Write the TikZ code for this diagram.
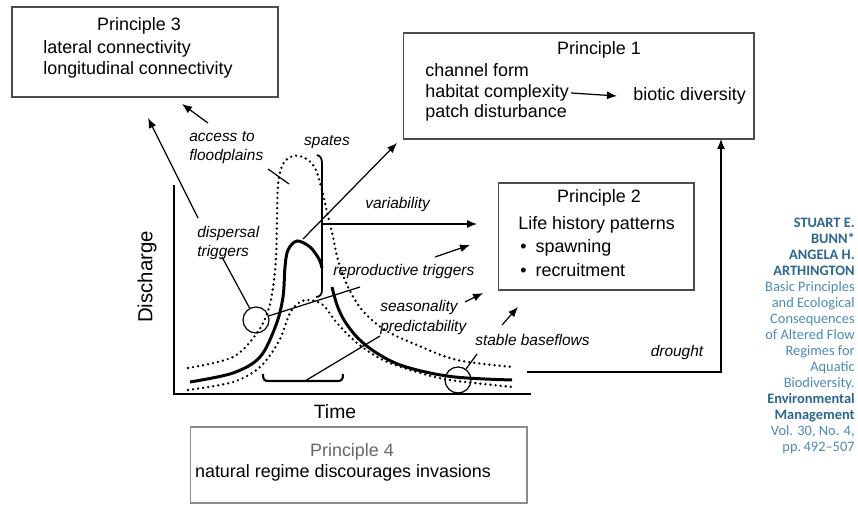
\documentclass[tikz,border=0pt]{standalone}
\usepackage{fontspec}
\setmainfont{Liberation Sans}
\newfontfamily\citefont{Carlito}
\usetikzlibrary{arrows.meta}
\definecolor{citebold}{HTML}{2A668E}
\definecolor{citereg}{HTML}{4B8AB6}
\tikzset{
	pbox/.style={draw=black!70, line width=0.6pt, inner sep=0pt},
	ptxt/.style={inner sep=0pt, font=\fontsize{10.2}{12}\selectfont},
	itl/.style={inner sep=0pt, align=left, font=\fontsize{8.8}{11}\selectfont\itshape},
	hydro/.style={line width=1.7pt},
	dots/.style={line width=1.5pt, dash pattern=on 0pt off 2.9pt, line cap=round},
	lnk/.style={line width=0.7pt},
	arr/.style={lnk, -{Latex[length=2mm,width=1.6mm]}},
	ring/.style={draw, lnk, circle, minimum size=0.52cm, inner sep=0pt},
}

\begin{document}
\begin{tikzpicture}[x=0.02cm, y=-0.02cm]
		%%%%% START %%%%%
		\useasboundingbox (0,0) rectangle (858,519);
		
		% principle boxes
		\node[pbox, minimum width=5.32cm, minimum height=1.8cm] (p3) at (145,52) {};
		\node[ptxt] (p3t) at (139,26) {Principle 3};
		\node[ptxt, anchor=west] (lat) at (43,49) {lateral connectivity};
		\node[ptxt, anchor=west] (lon) at (43,70) {longitudinal connectivity};
		
		\node[pbox, minimum width=7.02cm, minimum height=2.12cm] (p1) at (578.5,86) {};
		\node[ptxt] (p1t) at (599,50) {Principle 1};
		\node[ptxt, anchor=west] (chf) at (425,70) {channel form};
		\node[ptxt, anchor=west] (hab) at (425,93) {habitat complexity};
		\node[ptxt, anchor=west] (pat) at (425,113) {patch disturbance};
		\node[ptxt, anchor=west] (bio) at (633,96) {biotic diversity};
		\draw[arr] ([xshift=0.04cm]hab.east) -- ([xshift=-0.32cm]bio.west);
		
		\node[pbox, minimum width=3.92cm, minimum height=2.14cm] (p2) at (596,236.5) {};
		\node[ptxt] (p2t) at (599,198) {Principle 2};
		\node[ptxt, anchor=west] (lhp) at (518,225) {Life history patterns};
		\node[ptxt, anchor=west] (spw) at (520,248) {\textbullet\hspace{0.5em}spawning};
		\node[ptxt, anchor=west] (rec) at (520,270) {\textbullet\hspace{0.5em}recruitment};
		
		\node[pbox, draw=black!45, minimum width=6.74cm, minimum height=1.52cm] (p4) at (358.5,465) {};
		\node[ptxt, text=black!60] (p4t) at (352,452) {Principle 4};
		\node[ptxt] (nat) at (343,473) {natural regime discourages invasions};
		
		% axes
		\draw[lnk] (174,185) -- (174,394) -- (531,394);
		\node[font=\fontsize{11.6}{13}\selectfont, rotate=90, inner sep=0pt] (ylab) at (147,277) {Discharge};
		\node[font=\fontsize{11}{13}\selectfont, inner sep=0pt] (xlab) at (335,412) {Time};
		
		% flow curves
		\draw[dots] plot[smooth, tension=0.55] coordinates {(188,368) (233,357) (257,333) (268,311) (273,288) (276,258) (277,220) (278,185) (283,164) (293,156) (305,158) (315,168) (322,190) (327,212) (333,237) (338,260) (347,285) (362,310) (385,330) (417,345) (457,360) (513,367)};
		\draw[dots] plot[smooth, tension=0.55] coordinates {(188,390) (233,382) (260,367) (279,341) (290,313) (300,302) (310,300) (323,305) (337,323) (357,343) (383,360) (417,372) (450,380) (513,387)};
		\draw[hydro] plot[smooth, tension=0.55] coordinates {(190,382) (233,373) (260,357) (276,325) (283,297) (285,267) (288,250) (297,241) (310,247) (319,259) (322,268)};
		\draw[hydro] plot[smooth, tension=0.55] coordinates {(332,287) (337,305) (344,320) (355,335) (368,347) (385,358) (403,366) (430,373) (455,377) (485,379) (512,380)};
		
		% brackets and marks
		\draw[line width=1pt] (317,155) .. controls (321,156) and (322,159) .. (322,164) -- (322,290) .. controls (322,294) and (320,297) .. (316,297);
		\draw[line width=1.2pt] (263,374) .. controls (263,379) and (264,381) .. (268,381) -- (338,381) .. controls (342,381) and (343,379) .. (343,374);
		\draw[lnk] (268,169) -- (289,184);
		
		\node[ring] (c1) at (256,320) {};
		\node[ring] (c2) at (458,380) {};
		
		% labels
		\node[itl, anchor=west] (acc) at (189,147.5) {access to\\floodplains};
		\node[itl] (spt) at (327,142) {spates};
		\node[itl, anchor=west] (var) at (365,205) {variability};
		\node[itl, anchor=west] (dsp) at (197,243) {dispersal\\triggers};
		\node[itl, anchor=west] (rpt) at (333,272) {reproductive triggers};
		\node[itl, anchor=west] (sea) at (380,317.5) {seasonality\\predictability};
		\node[itl, anchor=west] (stb) at (475,340) {stable baseflows};
		\node[itl] (drt) at (677,353) {drought};
		
		% connectors
		\coordinate (a1) at (208,123);
		\coordinate (a2) at (182,104);
		\coordinate (d1) at (198,218);
		\coordinate (d2) at (148,118);
		\coordinate (pk) at (303,239);
		\coordinate (pa) at (397,143);
		\coordinate (vb) at (322,224);
		\coordinate (va) at (477,224);
		\coordinate (r1) at (435,257);
		\coordinate (r2) at (470,245);
		\coordinate (s1) at (465,302);
		\coordinate (s2) at (483,293);
		\coordinate (b1) at (502,325);
		\coordinate (b2) at (518,307);
		\coordinate (dp) at (222,257);
		\coordinate (rp) at (360,287);
		\coordinate (sb) at (477,354);
		\coordinate (bm) at (305,381);
		\coordinate (pr) at (380,336);
		\coordinate (dr) at (527,372);
		\coordinate (dk) at (721,139);
		
		\draw[arr] (a1) -- (a2);
		\draw[arr] (d1) -- (d2);
		\draw[arr] (pk) -- (pa);
		\draw[arr] (vb) -- (va);
		\draw[arr] (r1) -- (r2);
		\draw[arr] (s1) -- (s2);
		\draw[arr] (b1) -- (b2);
		\draw[arr] (dr) -| (dk);
		\draw[lnk] (dp) -- (c1);
		\draw[lnk] (c1) -- (rp);
		\draw[lnk] (c2) -- (sb);
		\draw[lnk] (bm) -- (pr);
		
		% citation
		\node[anchor=north east, align=right, inner sep=0pt, font=\citefont\fontsize{8.2}{9.1}\selectfont] (cite) at (855,218) {\textcolor{citebold}{\textbf{STUART E.}}\\\textcolor{citebold}{\textbf{BUNN*}}\\\textcolor{citebold}{\textbf{ANGELA H.}}\\\textcolor{citebold}{\textbf{ARTHINGTON}}\\\textcolor{citereg}{Basic Principles}\\\textcolor{citereg}{and Ecological}\\\textcolor{citereg}{Consequences}\\\textcolor{citereg}{of Altered Flow}\\\textcolor{citereg}{Regimes for}\\\textcolor{citereg}{Aquatic}\\\textcolor{citereg}{Biodiversity.}\\\textcolor{citebold}{\textbf{Environmental}}\\\textcolor{citebold}{\textbf{Management}}\\\textcolor{citereg}{Vol. 30, No. 4,}\\\textcolor{citereg}{pp.\,492–507}};
		
		%%%%% END %%%%%
\end{tikzpicture}
\end{document}
